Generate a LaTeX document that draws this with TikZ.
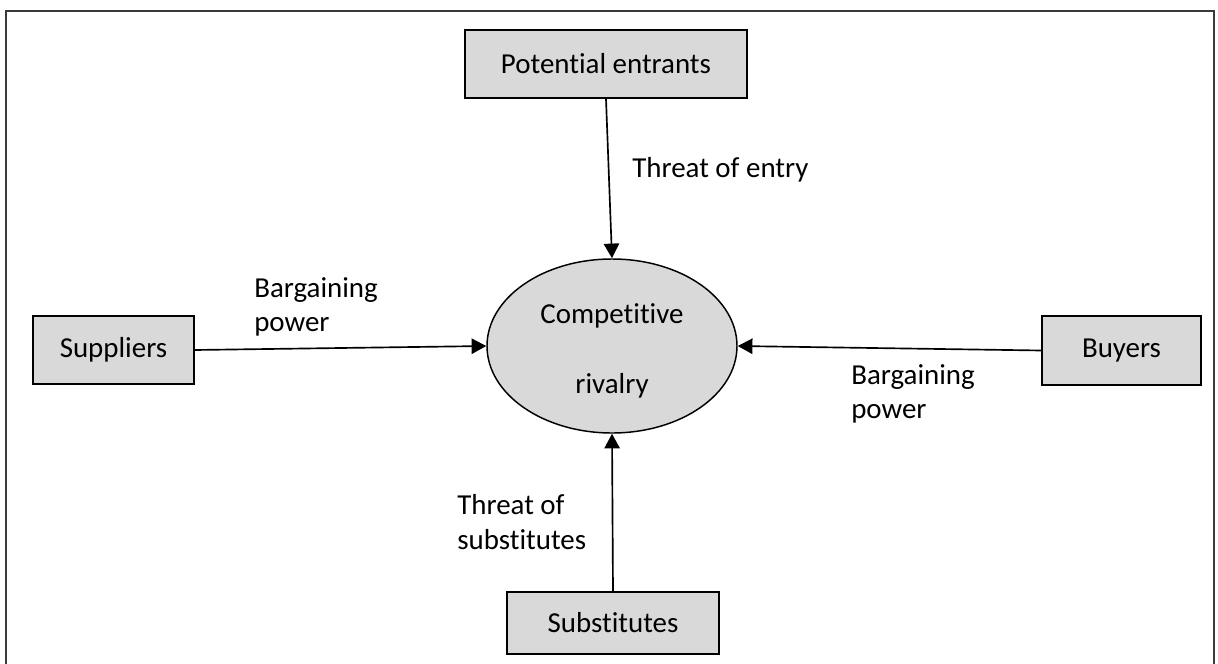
\documentclass[tikz,border=0pt]{standalone}
\usepackage{fontspec}
\setmainfont{Carlito}[Ligatures={NoCommon,NoContextual}]
\usetikzlibrary{arrows.meta,shapes.geometric}
\definecolor{boxfill}{HTML}{D9D9D9}
\definecolor{framecol}{HTML}{3A3A3A}
\begin{document}
\begin{tikzpicture}[x=0.75pt,y=-0.75pt,
  font=\fontsize{21.7}{26}\selectfont,
  forcebox/.style={draw=black, line width=1.1pt, fill=boxfill, inner sep=0pt},
  rivalbox/.style={ellipse, draw=black, line width=1.1pt, fill=boxfill, inner sep=0pt, align=center},
  lbl/.style={anchor=north west, inner sep=0pt, align=left},
  arr/.style={line width=1.25pt, -{Triangle[length=11pt,width=11.5pt]}}]
\useasboundingbox (0,0) rectangle (1218,664);
\draw[framecol, line width=1.2pt] (6,664) -- (6,11) -- (1214,11) -- (1214,664);

\node[forcebox, minimum width=211.5pt, minimum height=51pt] (entrants) at (606,64) {Potential entrants};
\node[forcebox, minimum width=120.75pt, minimum height=51pt] (suppliers) at (113.5,350) {Suppliers};
\node[forcebox, minimum width=119.25pt, minimum height=51.75pt] (buyers) at (1121.5,350.5) {Buyers};
\node[forcebox, minimum width=159pt, minimum height=46.5pt] (subs) at (613,623) {Substitutes};
\node[rivalbox, minimum width=187.5pt, minimum height=130.5pt] (rival) at (612,346) {\rule{0pt}{22.5pt}Competitive\\[26.5pt]rivalry};

\draw[arr] (entrants.south) -- (rival.north);
\draw[arr] (suppliers.east) -- (rival.west);
\draw[arr] (buyers.west) -- (rival.east);
\draw[arr] (subs.north) -- (rival.south);

\node[lbl] (tentry) at (632,157) {Threat of entry};
\node[lbl] (bpleft) at (254,277) {Bargaining\\power};
\node[lbl] (bpright) at (851,364) {Bargaining\\power};
\node[lbl] (tsubs) at (457,494) {Threat of\\substitutes};
\end{tikzpicture}
\end{document}
